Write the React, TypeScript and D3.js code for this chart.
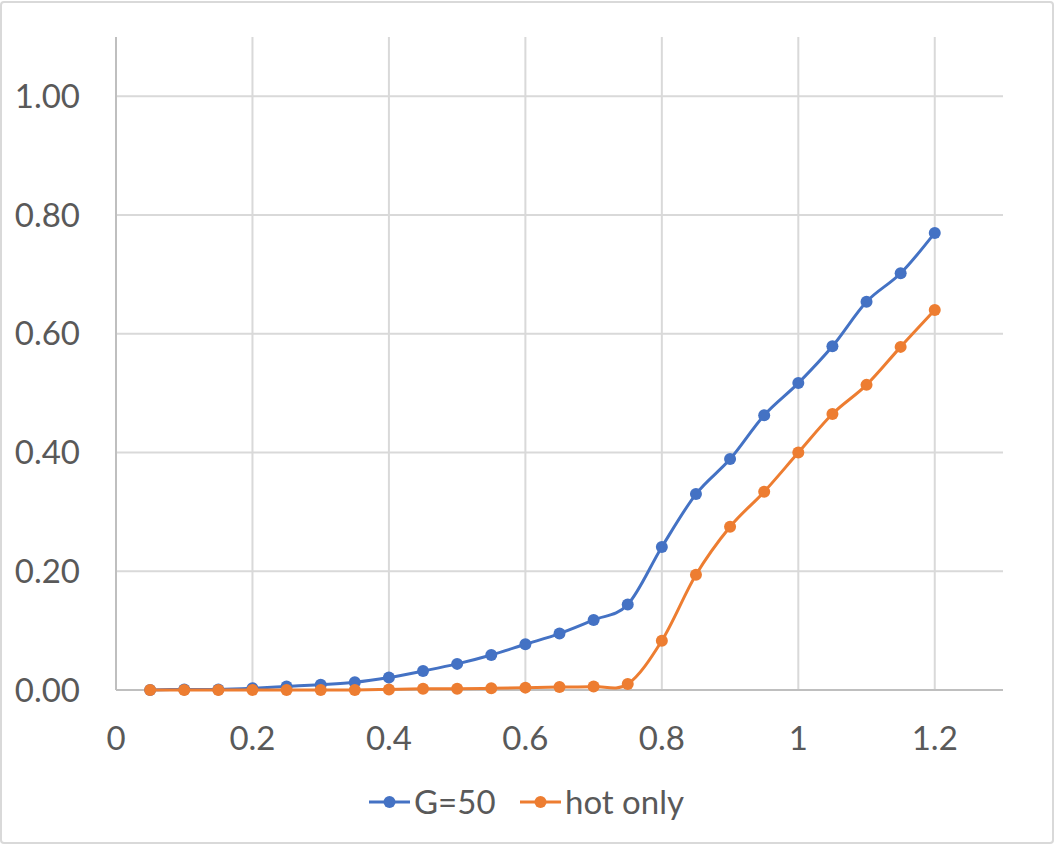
import { useEffect, useRef } from 'react';
import * as d3 from 'd3';

const xValues = [
  0.05, 0.1, 0.15, 0.2, 0.25, 0.3, 0.35, 0.4, 0.45, 0.5, 0.55, 0.6, 0.65, 0.7, 0.75, 0.8, 0.85, 0.9,
  0.95, 1.0, 1.05, 1.1, 1.15, 1.2,
];
const g50 = [
  0.0, 0.001, 0.001, 0.003, 0.006, 0.009, 0.013, 0.021, 0.032, 0.044, 0.059, 0.077, 0.095, 0.118,
  0.144, 0.241, 0.33, 0.389, 0.463, 0.517, 0.579, 0.654, 0.702, 0.77,
];
const hotOnly = [
  0.0, 0.0, 0.0, 0.0, 0.0, 0.0, 0.0, 0.001, 0.002, 0.002, 0.003, 0.004, 0.005, 0.006, 0.01, 0.083,
  0.194, 0.275, 0.334, 0.4, 0.465, 0.514, 0.578, 0.64,
];
const xTicks = [0, 0.2, 0.4, 0.6, 0.8, 1, 1.2];
const yTicks = [0, 0.2, 0.4, 0.6, 0.8, 1.0];
const seriesNames = ['G=50', 'hot only'];
const colors = ['#4472C4', '#ED7D31'];

const App = () => {
  const svgRef = useRef<SVGSVGElement>(null!);

  useEffect(() => {
    const width = 1054;
    const height = 845;
    const left = 116;
    const right = 1003;
    const top = 37;
    const bottom = 690;
    const font = 'Lato, "Noto Sans", sans-serif';
    const textColor = '#595959';

    const x = d3.scaleLinear().domain([0, 1.3]).range([left, right]);
    const y = d3.scaleLinear().domain([0, 1.1]).range([bottom, top]);

    const svg = d3.select(svgRef.current).attr('width', width).attr('height', height);

    svg
      .append('rect')
      .attr('x', 1)
      .attr('y', 2)
      .attr('width', width - 2)
      .attr('height', height - 4)
      .attr('rx', 3)
      .attr('fill', '#fff')
      .attr('stroke', '#d9d9d9')
      .attr('stroke-width', 2);

    // grid
    svg
      .selectAll('line.hgrid')
      .data(yTicks.filter(d => d > 0))
      .enter()
      .append('line')
      .attr('x1', left)
      .attr('x2', right)
      .attr('y1', d => y(d))
      .attr('y2', d => y(d))
      .attr('stroke', '#d9d9d9')
      .attr('stroke-width', 2);

    svg
      .selectAll('line.vgrid')
      .data(xTicks.filter(d => d > 0))
      .enter()
      .append('line')
      .attr('x1', d => x(d))
      .attr('x2', d => x(d))
      .attr('y1', top)
      .attr('y2', bottom)
      .attr('stroke', '#d9d9d9')
      .attr('stroke-width', 2);

    // axes lines
    svg
      .append('line')
      .attr('x1', left)
      .attr('x2', right)
      .attr('y1', bottom)
      .attr('y2', bottom)
      .attr('stroke', '#bfbfbf')
      .attr('stroke-width', 2);
    svg
      .append('line')
      .attr('x1', left)
      .attr('x2', left)
      .attr('y1', top)
      .attr('y2', bottom)
      .attr('stroke', '#bfbfbf')
      .attr('stroke-width', 2);

    // tick labels
    svg
      .selectAll('text.ylab')
      .data(yTicks)
      .enter()
      .append('text')
      .attr('x', 80)
      .attr('y', d => y(d))
      .attr('dy', '0.35em')
      .attr('text-anchor', 'end')
      .attr('font-family', font)
      .attr('font-size', 33)
      .attr('fill', textColor)
      .text(d => d3.format('.2f')(d));

    svg
      .selectAll('text.xlab')
      .data(xTicks)
      .enter()
      .append('text')
      .attr('x', d => x(d))
      .attr('y', 750)
      .attr('text-anchor', 'middle')
      .attr('font-family', font)
      .attr('font-size', 33)
      .attr('fill', textColor)
      .text(d => String(d));

    // series
    const line = d3
      .line<number>()
      .x((_, i) => x(xValues[i]))
      .y(d => y(d))
      .curve(d3.curveCardinal.tension(0));

    [g50, hotOnly].forEach((series, k) => {
      svg
        .append('path')
        .attr('d', line(series))
        .attr('fill', 'none')
        .attr('stroke', colors[k])
        .attr('stroke-width', 3);
      svg
        .selectAll(`circle.s${k}`)
        .data(series)
        .enter()
        .append('circle')
        .attr('cx', (_, i) => x(xValues[i]))
        .attr('cy', d => y(d))
        .attr('r', 6)
        .attr('fill', colors[k]);
    });

    // legend
    const legendX = [369, 520];
    seriesNames.forEach((name, k) => {
      const g = svg.append('g').attr('transform', `translate(${legendX[k]},802)`);
      g.append('line')
        .attr('x1', 0)
        .attr('x2', 41)
        .attr('stroke', colors[k])
        .attr('stroke-width', 3);
      g.append('circle').attr('cx', 20.5).attr('r', 6).attr('fill', colors[k]);
      g.append('text')
        .attr('x', 45)
        .attr('dy', '0.35em')
        .attr('font-family', font)
        .attr('font-size', 33)
        .attr('fill', textColor)
        .text(name);
    });

    return () => {
      svgRef.current.innerHTML = '';
    };
  }, []);

  return <svg ref={svgRef} style={{ position: 'absolute', left: 0, top: 0 }}></svg>;
};

export default App;
